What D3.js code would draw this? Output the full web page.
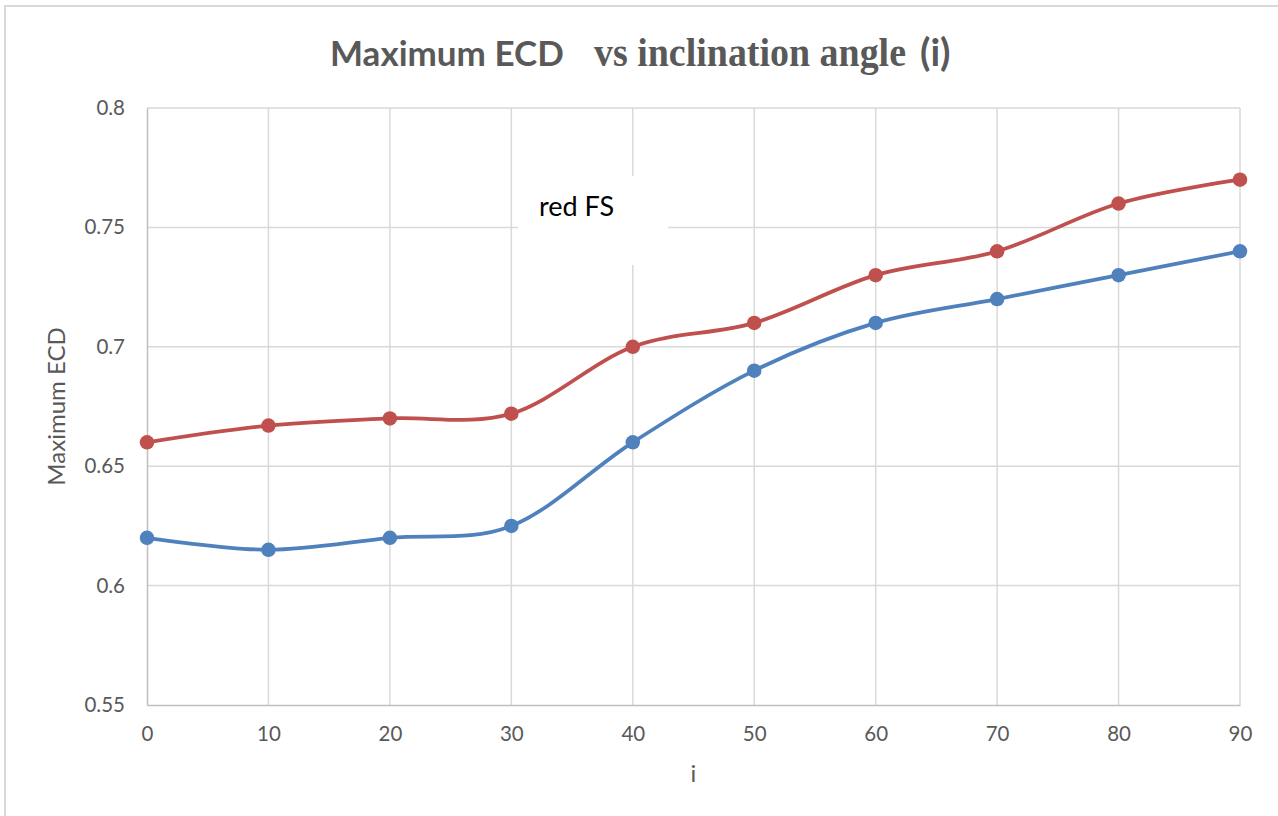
<!DOCTYPE html>
<html>
<head>
<meta charset="utf-8">
<script src="https://cdn.jsdelivr.net/npm/d3@7"></script>
<style>
  html, body { margin: 0; padding: 0; background: #fff; }
  svg { display: block; }
</style>
</head>
<body>
<div id="chart"></div>
<script>
// chart values
const angles = [0, 10, 20, 30, 40, 50, 60, 70, 80, 90];
const redSeries = [0.66, 0.667, 0.67, 0.672, 0.70, 0.71, 0.73, 0.74, 0.76, 0.77];
const blueSeries = [0.62, 0.615, 0.62, 0.625, 0.66, 0.69, 0.71, 0.72, 0.73, 0.74];
const yTicks = [0.55, 0.6, 0.65, 0.7, 0.75, 0.8];
const xTicks = [0, 10, 20, 30, 40, 50, 60, 70, 80, 90];

(function () {
  const W = 1278, H = 816;
  const margin = { top: 108, right: 38, bottom: 111, left: 147 };
  const width = W - margin.left - margin.right;
  const height = H - margin.top - margin.bottom;
  const textColor = '#595959';
  const font = 'Lato, "Open Sans", sans-serif';

  const svg = d3.select('#chart').append('svg')
    .attr('width', W)
    .attr('height', H);

  // outer chart border (only left and top visible)
  svg.append('path')
    .attr('d', `M5,${H} L5,6 L${W},6`)
    .attr('fill', 'none')
    .attr('stroke', '#d9d9d9')
    .attr('stroke-width', 2);

  const x = d3.scaleLinear().domain([0, 90]).range([0, width]);
  const y = d3.scaleLinear().domain([0.55, 0.8]).range([height, 0]);

  const g = svg.append('g').attr('transform', `translate(${margin.left},${margin.top})`);

  // gridlines
  g.append('g').attr('class', 'y-grid')
    .selectAll('line').data(yTicks.slice(1)).join('line')
    .attr('x1', 0).attr('x2', width)
    .attr('y1', d => y(d)).attr('y2', d => y(d))
    .attr('stroke', '#d9d9d9').attr('stroke-width', 1.5);

  g.append('g').attr('class', 'x-grid')
    .selectAll('line').data(xTicks.slice(1)).join('line')
    .attr('x1', d => x(d)).attr('x2', d => x(d))
    .attr('y1', 0).attr('y2', height)
    .attr('stroke', '#d9d9d9').attr('stroke-width', 1.5);

  // axes
  const yAxis = g.append('g')
    .call(d3.axisLeft(y).tickValues(yTicks).tickSize(0).tickPadding(22)
      .tickFormat(d => String(+d.toFixed(2))));
  yAxis.select('.domain').attr('stroke', '#bfbfbf').attr('stroke-width', 1.5);
  yAxis.selectAll('text')
    .attr('fill', textColor).attr('font-size', 20.5).attr('font-family', font);

  const xAxis = g.append('g')
    .attr('transform', `translate(0,${height})`)
    .call(d3.axisBottom(x).tickValues(xTicks).tickSize(0).tickPadding(21));
  xAxis.select('.domain').attr('stroke', '#bfbfbf').attr('stroke-width', 1.5);
  xAxis.selectAll('text')
    .attr('fill', textColor).attr('font-size', 20.5).attr('font-family', font);

  // series
  const series = [
    { name: 'blue', values: blueSeries, color: '#4f81bd' },
    { name: 'red', values: redSeries, color: '#c0504d' }
  ];

  const line = d3.line()
    .x((d, i) => x(angles[i]))
    .y(d => y(d))
    .curve(d3.curveCardinal.tension(0));

  series.forEach(s => {
    g.append('path')
      .datum(s.values)
      .attr('fill', 'none')
      .attr('stroke', s.color)
      .attr('stroke-width', 3.75)
      .attr('d', line);

    g.append('g').selectAll('circle').data(s.values).join('circle')
      .attr('cx', (d, i) => x(angles[i]))
      .attr('cy', d => y(d))
      .attr('r', 7.25)
      .attr('fill', s.color);
  });

  // text box annotation
  svg.append('rect')
    .attr('x', 518).attr('y', 176)
    .attr('width', 150).attr('height', 89)
    .attr('fill', '#fff');
  svg.append('text')
    .attr('x', 539).attr('y', 216)
    .attr('font-family', font).attr('font-size', 27)
    .attr('fill', '#000')
    .text('red FS');

  // title (mixed fonts as in source)
  const title = svg.append('g')
    .attr('fill', textColor)
    .attr('font-weight', 'bold');
  title.append('text')
    .attr('x', 330).attr('y', 66)
    .attr('font-family', font).attr('font-size', 35)
    .text('Maximum ECD');
  title.append('text')
    .attr('x', 594).attr('y', 66)
    .attr('font-family', '"Liberation Serif", "DejaVu Serif", serif').attr('font-size', 40)
    .attr('textLength', 312).attr('lengthAdjust', 'spacingAndGlyphs')
    .text('vs inclination angle');
  title.append('text')
    .attr('x', 920).attr('y', 66)
    .attr('font-family', font).attr('font-size', 38)
    .text('(i)');

  // axis titles
  svg.append('text')
    .attr('transform', `translate(65,${margin.top + height / 2}) rotate(-90)`)
    .attr('text-anchor', 'middle')
    .attr('fill', textColor).attr('font-size', 24).attr('font-family', font)
    .text('Maximum ECD');

  svg.append('text')
    .attr('x', margin.left + width / 2).attr('y', 782)
    .attr('text-anchor', 'middle')
    .attr('fill', textColor).attr('font-size', 24).attr('font-family', font)
    .text('i');
})();
</script>
</body>
</html>
